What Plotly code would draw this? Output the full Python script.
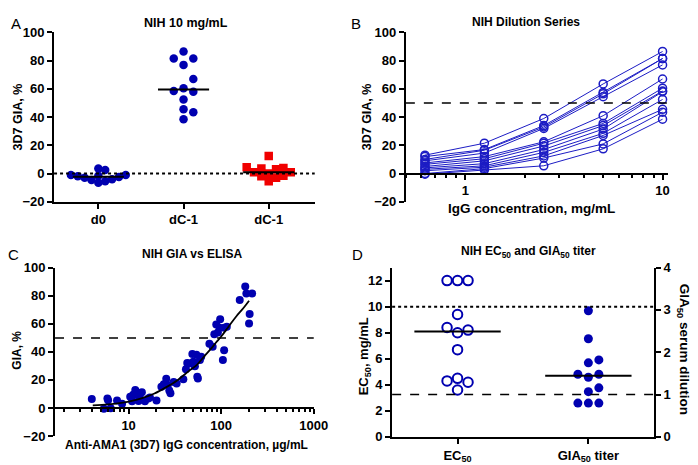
import numpy as np
import plotly.graph_objects as go

W, H = 698, 465
FONT = "Liberation Sans, Arial, sans-serif"
BLUE = "#0000b0"
LBLUE = "#1c1cc4"
RED = "#f00000"

# ---------------- Panel A data ----------------
a_categories = ["d0", "dC-1", "dC-1"]
a_d0 = [3.5, 2.5, -1, -1, -1.5, -2, -2.5, -3, -4, -4.5, -5.5, -6.5]
a_dc1_blue = [86.5, 81.5, 81.5, 77, 67, 60.5, 58, 58.5, 52.5, 45.5, 43.5, 38.5]
a_dc1_red = [12.5, 4.5, 4, 3.5, 3, 1, 1, 0, -1.5, -2, -3, -5.5]

# ---------------- Panel B data ----------------
b_conc = [0.625, 1.25, 2.5, 5, 10]
b_series = [
    [13, 21.5, 39, 63.5, 86.5],
    [12, 17, 34, 57.5, 81.5],
    [10, 16.5, 33, 56.5, 81.5],
    [9, 14.5, 32, 54.5, 77],
    [7.5, 12, 22.5, 41, 67],
    [6.5, 10.5, 21.5, 35.5, 60.5],
    [5, 9, 19.5, 34, 58.5],
    [4, 7, 17, 31.5, 58],
    [3, 5.5, 15, 28.5, 52.5],
    [2, 4.5, 12.5, 27, 45.5],
    [0, 3.5, 11, 21, 43.5],
    [-0.5, 2.5, 5.5, 17.5, 38.5],
]

# ---------------- Panel C data ----------------
c_elisa = [4.0, 5.4, 6.4, 5.9, 6.0, 7.5, 8.5, 10.4, 10.9, 11.2, 11.8, 12.3, 12.8,
           13.3, 13.9, 15.0, 16.3, 17.0, 20.0, 22.6, 24.0, 25.5, 26.5, 27.5, 28.3,
           30.7, 33.0, 39.0, 41.6, 43.0, 45.0, 48.8, 50.0, 52.0, 54.0, 55.2, 56.0,
           58.9, 60.8, 74.6, 80.9, 84.3, 88.5, 92.2, 95.9, 97.5, 104.3, 107.6,
           107.6, 115.0, 158.6, 182.0, 187.0, 216.0, 203.0, 200.0]
c_gia = [6.4, -0.5, -0.2, 6.7, 5.5, 5.3, 3.0, 8.0, 4.8, 9.5, 12.8, 9.4, 5.0,
         6.7, 11.2, 4.8, 6.7, 7.5, 5.3, 15.1, 17.0, 20.8, 16.3, 12.5, 10.5,
         18.5, 17.5, 20.4, 27.7, 32.0, 31.8, 38.6, 33.0, 29.7, 38.0, 22.2, 21.0,
         34.3, 36.5, 45.8, 43.7, 52.6, 59.5, 53.8, 57.2, 63.4, 34.3, 41.2,
         57.2, 57.9, 77.1, 86.7, 81.7, 81.7, 67.0, 60.2]
c_fit_x = [4.1, 6, 8, 10, 14, 19, 25, 34, 45, 55, 66, 77, 90, 100, 120, 146, 175, 200]
c_fit_y = [1.8, 2.5, 3.5, 4.6, 7, 10.3, 14.5, 20, 26.5, 31, 37, 42, 47.5, 51, 58, 65.5, 71.5, 76.5]

# ---------------- Panel D data ----------------
d_categories = ["EC<sub>50</sub>", "GIA<sub>50</sub> titer"]
d_ec50 = [12, 12, 12, 9.4, 8.2, 8.4, 8.0, 6.7, 4.3, 4.5, 4.2, 3.6]
d_gia50 = [2.98, 2.32, 1.82, 1.75, 1.48, 1.48, 1.41, 1.16, 1.07, 0.8, 0.8, 0.8]


def px(x):
    return x / W


def py(y):
    return 1 - y / H


def beeswarm(vals, ypx, xpx, step=9.0, thr=9.0):
    vals = np.asarray(vals, dtype=float)
    order = np.argsort(vals, kind="stable")
    placed = []
    offs = np.zeros(len(vals))
    cands = [0] + [s * j for j in range(1, 12) for s in (1, -1)]
    for i in order:
        y = vals[i] * ypx
        xo = 0
        for c in cands:
            xo = c * step
            if all((xo - p) ** 2 + (y - q) ** 2 >= thr ** 2 for p, q in placed):
                break
        placed.append((xo, y))
        offs[i] = xo / xpx
    return offs


fig = go.Figure()

# ---- Panel A ----
A_YPX = 175 / 120
A_XPX = 87
for i, (vals, col, sym, step) in enumerate([(a_d0, BLUE, "circle", 7.0),
                                            (a_dc1_blue, BLUE, "circle", 10.0),
                                            (a_dc1_red, RED, "square", 7.5)]):
    off = beeswarm(vals, A_YPX, A_XPX, step=step, thr=step)
    fig.add_trace(go.Scatter(x=i + off, y=vals, mode="markers", xaxis="x", yaxis="y",
                             marker=dict(symbol=sym, size=8.5, color=col, line=dict(width=0))))
    med = float(np.median(vals))
    fig.add_trace(go.Scatter(x=[i - 0.3, i + 0.3], y=[med, med], mode="lines",
                             xaxis="x", yaxis="y", line=dict(color="black", width=2)))

# ---- Panel B ----
for s in b_series:
    fig.add_trace(go.Scatter(x=b_conc, y=s, mode="lines+markers", xaxis="x2", yaxis="y2",
                             line=dict(color=LBLUE, width=1),
                             marker=dict(symbol="circle-open", size=8, color=LBLUE,
                                         line=dict(width=1.5, color=LBLUE))))

# ---- Panel C ----
fig.add_trace(go.Scatter(x=c_elisa, y=c_gia, mode="markers", xaxis="x3", yaxis="y3",
                         marker=dict(size=8, color=BLUE, line=dict(width=0))))
fig.add_trace(go.Scatter(x=c_fit_x, y=c_fit_y, mode="lines", xaxis="x3", yaxis="y3",
                         line=dict(color="black", width=1.8, shape="spline")))

# ---- Panel D ----
D_XPX = 133.5
off = beeswarm(d_ec50, 175 / 13, D_XPX, step=10.7, thr=10.5)
fig.add_trace(go.Scatter(x=0 + off, y=d_ec50, mode="markers", xaxis="x4", yaxis="y4",
                         marker=dict(symbol="circle-open", size=9.5, color=BLUE,
                                     line=dict(width=2, color=BLUE))))
m = float(np.median(d_ec50))
fig.add_trace(go.Scatter(x=[-0.33, 0.33], y=[m, m], mode="lines", xaxis="x4", yaxis="y4",
                         line=dict(color="black", width=2)))
off = beeswarm(d_gia50, 175 / 4, D_XPX, step=10.7, thr=10.5)
fig.add_trace(go.Scatter(x=1 + off, y=d_gia50, mode="markers", xaxis="x4", yaxis="y5",
                         marker=dict(size=9, color=BLUE, line=dict(width=0))))
m = float(np.median(d_gia50))
fig.add_trace(go.Scatter(x=[0.67, 1.33], y=[m, m], mode="lines", xaxis="x4", yaxis="y5",
                         line=dict(color="black", width=2)))

tickfont = dict(family=FONT, size=13, color="black", weight="bold")
common = dict(showline=True, linewidth=2, linecolor="black", ticks="outside",
              ticklen=5, tickwidth=2, tickcolor="black", showgrid=False,
              zeroline=False, tickfont=tickfont, fixedrange=True)
minor = dict(ticks="outside", ticklen=3, tickwidth=1.5, tickcolor="black",
             dtick="D1", showgrid=False)

A_Y = [py(193), py(18)]
C_Y = [py(435), py(261.3)]
D_Y = [py(436), py(261)]

fig.update_layout(
    width=W, height=H, margin=dict(l=0, r=0, t=0, b=0),
    paper_bgcolor="white", plot_bgcolor="white", showlegend=False,
    font=dict(family=FONT, color="black"),
    xaxis=dict(domain=[px(47), px(313)], range=[-0.52, 2.54], anchor="y",
               tickmode="array", tickvals=[0, 1, 2], ticktext=a_categories, **common),
    yaxis=dict(domain=A_Y, range=[-20, 100], dtick=20, anchor="x", **common),
    xaxis2=dict(domain=[px(406), px(674)], type="log", range=[np.log10(0.5), 1.03],
                dtick=1, exponentformat="none", anchor="free",
                position=A_Y[0] + (A_Y[1] - A_Y[0]) / 6, minor=minor, **common),
    yaxis2=dict(domain=A_Y, range=[-20, 100], dtick=20, anchor="x2", **common),
    xaxis3=dict(domain=[px(48), px(312)], type="log", range=[0.205, 3],
                dtick=1, exponentformat="none", anchor="free",
                position=C_Y[0] + (C_Y[1] - C_Y[0]) / 6, minor=minor, **common),
    yaxis3=dict(domain=C_Y, range=[-20, 100], dtick=20, anchor="x3", **common),
    xaxis4=dict(domain=[px(392), px(659)], range=[-0.5, 1.5], anchor="y4",
                tickmode="array", tickvals=[0, 1], ticktext=d_categories, **common),
    yaxis4=dict(domain=D_Y, range=[0, 13], tickmode="array",
                tickvals=[0, 2, 4, 6, 8, 10, 12], anchor="x4", **common),
    yaxis5=dict(range=[0, 4], dtick=1, overlaying="y4", side="right", anchor="x4",
                **common),
)

shapes = [
    dict(type="line", xref="x domain", yref="y", x0=0, x1=1, y0=0, y1=0,
         line=dict(color="black", width=2, dash="dot")),
    dict(type="line", xref="x2 domain", yref="y2", x0=0, x1=1, y0=50, y1=50,
         line=dict(color="black", width=1.5, dash="dash")),
    dict(type="line", xref="x3 domain", yref="y3", x0=0, x1=1, y0=50, y1=50,
         line=dict(color="black", width=1.5, dash="dash")),
    dict(type="line", xref="x4 domain", yref="y4", x0=0, x1=1, y0=10, y1=10,
         line=dict(color="black", width=2, dash="dot")),
    dict(type="line", xref="x4 domain", yref="y5", x0=0, x1=1, y0=1, y1=1,
         line=dict(color="black", width=1.5, dash="dash")),
]
fig.update_layout(shapes=shapes)


def ann(text, x, y, size=12, bold=True, angle=0):
    return dict(text=text, x=px(x), y=py(y), xref="paper", yref="paper",
                showarrow=False, xanchor="center", yanchor="middle", textangle=angle,
                font=dict(family=FONT, size=size, color="black",
                          weight="bold" if bold else "normal"))


annotations = [
    ann("A", 8, 9, size=15, bold=False),
    ann("B", 355, 9, size=15, bold=False),
    ann("C", 6, 247, size=15, bold=False),
    ann("D", 357, 247, size=15, bold=False),
    ann("NIH 10 mg/mL", 182, 8, size=12.5),
    ann("NIH Dilution Series", 529, 7),
    ann("NIH GIA vs ELISA", 188, 247),
    ann("NIH EC<sub>50</sub> and GIA<sub>50</sub> titer", 531, 245),
    ann("3D7 GIA, %", 10, 105, size=12.5, angle=-90),
    ann("3D7 GIA, %", 366, 105, size=12.5, angle=-90),
    ann("GIA, %", 9, 346, angle=-90),
    ann("EC<sub>50</sub>, mg/mL", 364, 353, size=13, angle=-90),
    ann("GIA<sub>50</sub> serum dilution", 689, 345, size=13.5, angle=90),
    ann("IgG concentration, mg/mL", 534, 200, size=13.5),
    ann("Anti-AMA1 (3D7) IgG concentration, µg/mL", 182, 444),
]
fig.update_layout(annotations=annotations)

fig.write_html("out.html")
